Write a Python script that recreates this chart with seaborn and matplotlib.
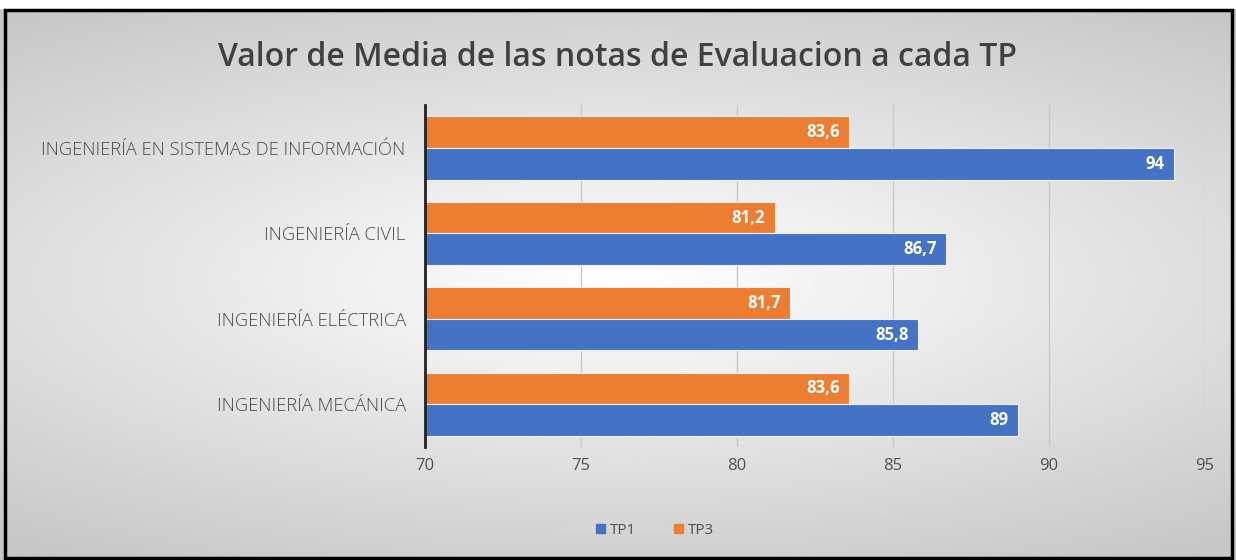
import matplotlib.pyplot as plt
import seaborn as sns
import numpy as np
import pandas as pd
from matplotlib.patches import Rectangle, Patch

carreras = ['INGENIERÍA EN SISTEMAS DE INFORMACIÓN', 'INGENIERÍA CIVIL',
            'INGENIERÍA ELÉCTRICA', 'INGENIERÍA MECÁNICA']
tp1 = [94, 86.7, 85.8, 89]
tp3 = [83.6, 81.2, 81.7, 83.6]
ticks = [70, 75, 80, 85, 90, 95]

df = pd.DataFrame({
    'carrera': carreras * 2,
    'nota': tp3 + tp1,
    'tp': ['TP3'] * 4 + ['TP1'] * 4,
})

sns.set_style('white')
plt.rcParams['font.family'] = ['Open Sans', 'DejaVu Sans']

colores = {'TP1': '#4472C4', 'TP3': '#ED7D31'}

fig = plt.figure(figsize=(12.36, 5.6), dpi=100)

# fondo degradado radial
bg = fig.add_axes([0, 0, 1, 1], zorder=-10)
yy, xx = np.mgrid[-1:1:200j, -1:1:400j]
r = np.sqrt((xx * 0.8) ** 2 + (yy * 1.1) ** 2)
bg.imshow(1 - 0.22 * np.clip(r, 0, 1.3) / 1.3, cmap='gray', vmin=0, vmax=1,
          aspect='auto', extent=[0, 1, 0, 1])
bg.axis('off')
fig.patches.append(Rectangle((0, 1 - 8 / 560), 1, 8 / 560, transform=fig.transFigure,
                             facecolor='white', zorder=5))
fig.patches.append(Rectangle((0.004, 0.004), 0.993, 1 - 12 / 560, transform=fig.transFigure,
                             fill=False, edgecolor='black', linewidth=2.5, zorder=6))

ax = fig.add_axes([0.344, 0.202, 0.631, 0.61])
ax.set_facecolor('none')
sns.barplot(data=df, y='carrera', x='nota', hue='tp', hue_order=['TP3', 'TP1'],
            palette=colores, orient='h', width=0.74, saturation=1, ax=ax, legend=False,
            edgecolor='#eef2f8', linewidth=0.8)

ax.set_xlim(70, 95)
ax.set_xticks(ticks)
ax.grid(axis='x', color='#c8c8c8', linewidth=1)
ax.set_axisbelow(True)
for s in ['top', 'right', 'bottom']:
    ax.spines[s].set_visible(False)
ax.spines['left'].set_color('#222222')
ax.spines['left'].set_linewidth(2)
ax.set_xlabel('')
ax.set_ylabel('')
ax.tick_params(axis='x', length=0, labelsize=12, colors='#505050', pad=8)
ax.tick_params(axis='y', length=0, labelsize=13.2, colors='#4a4a4a', pad=14)
for lab in ax.get_yticklabels():
    lab.set_fontweight('light')

for cont in ax.containers:
    for bar in cont:
        w = bar.get_width()
        txt = f'{w:g}'.replace('.', ',')
        ax.text(w - 0.3, bar.get_y() + bar.get_height() / 2, txt, ha='right', va='center',
                color='white', fontsize=12, fontweight='bold')

fig.text(0.5, 0.898, 'Valor de Media de las notas de Evaluacion a cada TP', ha='center',
         va='center', fontsize=23, fontweight='semibold', color='#404040')

handles = [Patch(color=colores['TP1'], label='TP1'), Patch(color=colores['TP3'], label='TP3')]
fig.legend(handles=handles, loc='center', bbox_to_anchor=(0.53, 0.053), ncol=2, frameon=False,
           fontsize=11, handlelength=0.6, handleheight=0.6, columnspacing=2.5, handletextpad=0.3,
           labelcolor='#505050')

fig.savefig('out.png', dpi=100)
